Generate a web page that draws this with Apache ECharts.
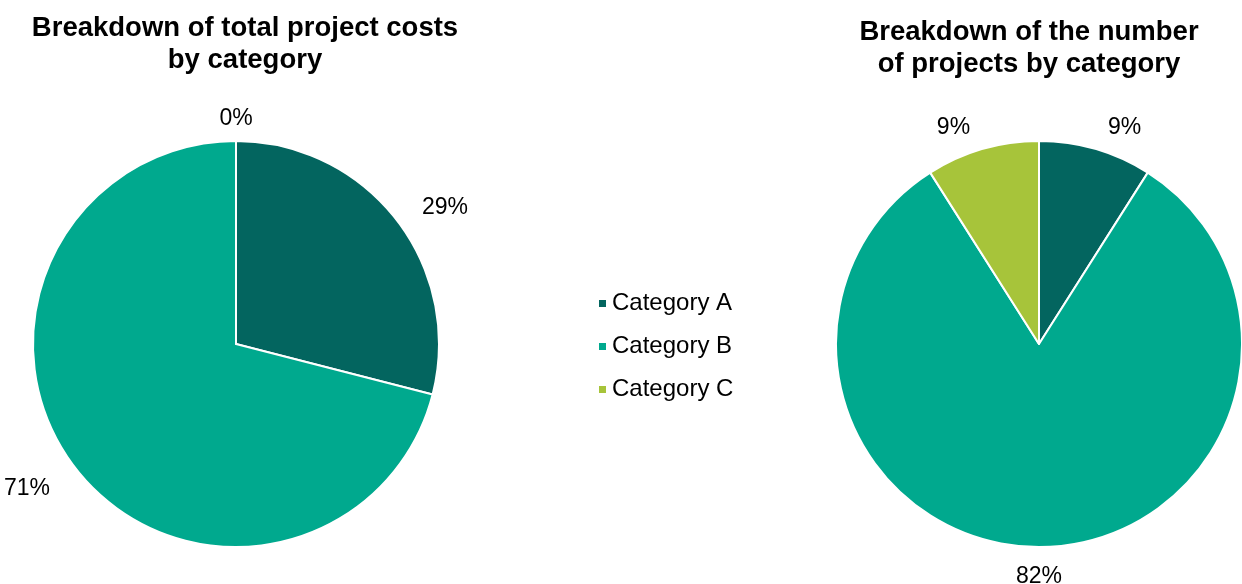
<!DOCTYPE html>
<html><head><meta charset="utf-8">
<script src="https://cdn.jsdelivr.net/npm/echarts@6/dist/echarts.min.js"></script>
<style>html,body{margin:0;padding:0;background:#fff}#c{width:1242px;height:584px}</style>
</head><body><div id="c"></div>
<script>
const categories = ['Category A', 'Category B', 'Category C'];
const costShares = [29, 71, 0];
const projectShares = [9, 82, 9];
const titles = ['Breakdown of total project costs\nby category', 'Breakdown of the number\nof projects by category'];
const colors = ['#03655F', '#00A98E', '#A7C43A'];

const font = '"Liberation Sans", Arial, sans-serif';
function pieSeries(vals, cx, centeredIdx) {
  return {
    type: 'pie',
    center: [cx, 344],
    radius: [0, 203],
    startAngle: 90,
    clockwise: true,
    avoidLabelOverlap: false,
    minShowLabelAngle: 0,
    itemStyle: { borderColor: '#fff', borderWidth: 2 },
    label: {
      show: true, position: 'outside', formatter: p => Math.round(p.percent) + '%',
      fontFamily: font, fontSize: 23, color: '#000'
    },
    labelLine: { show: false, length: 26, length2: 0 },
    labelLayout: p => (p.dataIndex === centeredIdx
      ? { align: 'center', x: p.rect.x + p.rect.width / 2, dy: 4 }
      : { dy: 4 }),
    emphasis: { disabled: true },
    data: categories.map((n, i) => ({ name: n, value: vals[i] }))
  };
}
const chart = echarts.init(document.getElementById('c'), null, { renderer: 'canvas' });
chart.setOption({
  animation: false,
  color: colors,
  title: [
    { text: titles[0], left: 240, top: 7, textAlign: 'center',
      textStyle: { fontFamily: font, fontSize: 27.5, fontWeight: 'bold', color: '#000', lineHeight: 32 } },
    { text: titles[1], left: 1024, top: 11, textAlign: 'center',
      textStyle: { fontFamily: font, fontSize: 27.5, fontWeight: 'bold', color: '#000', lineHeight: 32 } }
  ],
  legend: {
    orient: 'vertical', left: 592, top: 285, icon: 'rect', itemWidth: 9, itemHeight: 9,
    itemGap: 16, data: categories,
    textStyle: { fontFamily: font, fontSize: 24, color: '#000', lineHeight: 27 }
  },
  series: [pieSeries(costShares, 236, 2), pieSeries(projectShares, 1039, 1)]
});
</script></body></html>
